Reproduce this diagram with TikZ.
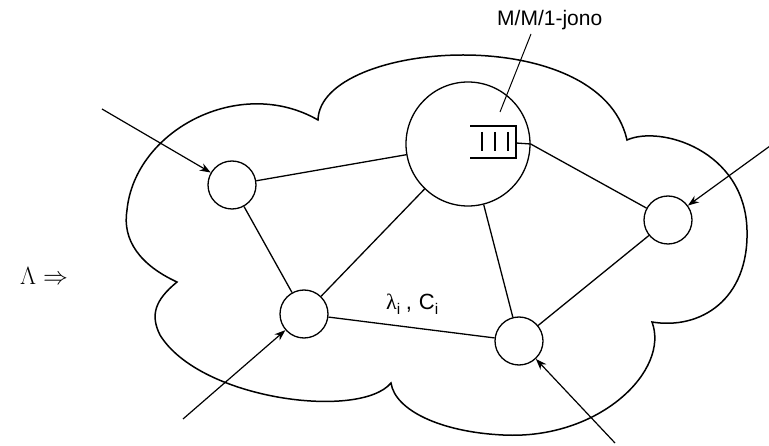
\documentclass[tikz,border=0pt]{standalone}
\usepackage{fontspec}
\setmainfont{Liberation Sans}
\newfontfamily\symserif{Liberation Serif}
\usetikzlibrary{arrows.meta}

\begin{document}
\begin{tikzpicture}[x=1pt,y=-1pt,
  station/.style={circle,draw,line width=1.3pt,minimum size=48pt,inner sep=0pt},
  hub/.style={circle,draw,line width=1.3pt,minimum size=124pt,inner sep=0pt},
  link/.style={line width=1.3pt},
  feed/.style={line width=1.2pt,-{Stealth[length=11pt,width=8pt]}},
  cloudline/.style={line width=1.5pt},
  pointer/.style={line width=1pt}]
\useasboundingbox (0,0) rectangle (769,446);

% network cloud
\draw[cloudline] (318,120)
  .. controls (320,40) and (600,20) .. (627,140)
  .. controls (660,125) and (745,150) .. (747,230)
  .. controls (749,300) and (700,330) .. (652,322)
  .. controls (670,370) and (600,440) .. (503,435)
  .. controls (440,432) and (395,410) .. (391,383)
  .. controls (360,420) and (200,400) .. (160,335)
  .. controls (150,315) and (155,300) .. (177,282)
  .. controls (140,265) and (122,240) .. (127,210)
  .. controls (135,130) and (240,75) .. cycle;

% stations
\node[hub] (Q) at (468,144) {};
\node[station] (A) at (232,185) {};
\node[station] (B) at (304,314) {};
\node[station] (C) at (519,341) {};
\node[station] (D) at (668,220) {};

% M/M/1 queue inside the hub
\draw[link] (470,126) -- (516,126) -- (516,158) -- (470,158);
\draw[link] (482,132) -- (482,151);
\draw[link] (495,132) -- (495,151);
\draw[link] (508,132) -- (508,151);
\coordinate (qout) at (516,143);

% links
\draw[link] (A) -- (Q);
\draw[link] (A) -- (B);
\draw[link] (B) -- (Q);
\draw[link] (B) -- (C);
\draw[link] (C) -- (Q);
\draw[link] (C) -- (D);
\draw[link] (qout) -- (Q.east) -- (D);

% external arrivals
\coordinate (inA) at (102,109);
\coordinate (inB) at (183,419);
\coordinate (inC) at (615,443);
\coordinate (inD) at (770,146);
\draw[feed] (inA) -- (A);
\draw[feed] (inB) -- (B);
\draw[feed] (inC) -- (C);
\draw[feed] (inD) -- (D);

% labels
\node[anchor=base west,inner sep=0pt,font=\fontsize{21}{21}\selectfont] (mm1) at (497,25.7) {M/M/1-jono};
\coordinate (ptrtop) at (531,34);
\coordinate (ptrend) at (500,112);
\draw[pointer] (ptrtop) -- (ptrend);

\node[anchor=base west,inner sep=0pt,font=\fontsize{22}{22}\selectfont] (lab) at (386,310)
  {{\symserif λ}\textsubscript{i}\hspace{5pt},\hspace{7pt}C\textsubscript{i}};

\node[anchor=base west,inner sep=0pt,font=\fontsize{38}{38}\selectfont] (lam) at (20,285)
  {$\Lambda\Rightarrow$};
\end{tikzpicture}
\end{document}
